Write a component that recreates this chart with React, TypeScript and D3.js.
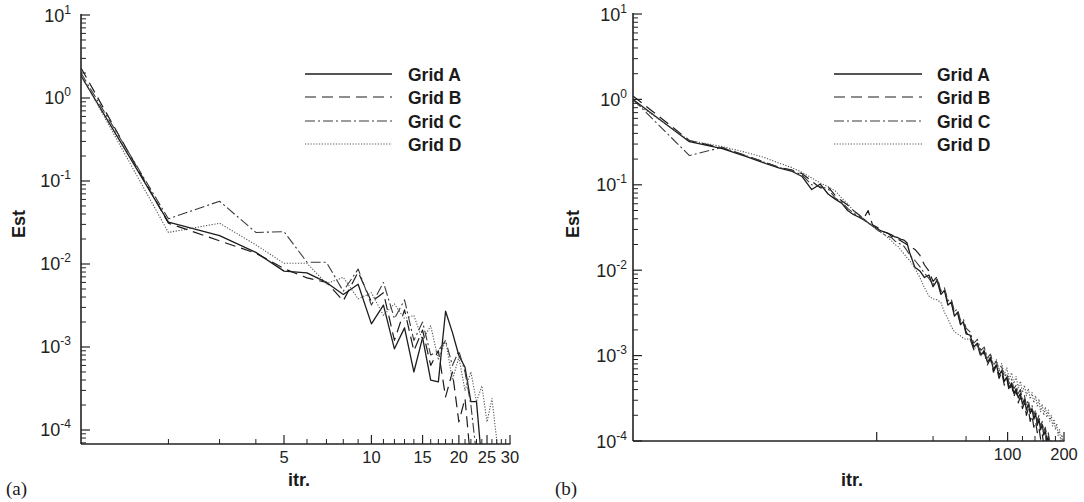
import * as d3 from "d3";

const gridNames = ["Grid A", "Grid B", "Grid C", "Grid D"];

// ---- panel (a): one value per iteration ----
const itrA = [1, 2, 3, 4, 5, 6, 7, 8, 9, 10, 11, 12, 13, 14, 15, 16, 17, 18, 19, 20, 21, 22, 23, 24, 25, 26, 27, 28];
const estA_gridA = [1.85, 0.032, 0.022, 0.0138, 0.0082, 0.0078, 0.006, 0.0043, 0.0057, 0.0019, 0.0032, 0.00095, 0.0017, 0.0005, 0.0013, 0.0004, 0.00038, 0.0027, 0.0015, 0.00079, 0.00057, 0.00022, 0.00022, 0.00004];
const estA_gridB = [2.3, 0.031, 0.019, 0.0135, 0.0088, 0.0068, 0.006, 0.0036, 0.008, 0.0035, 0.0045, 0.0012, 0.0028, 0.0009, 0.0016, 0.0006, 0.0009, 0.00025, 0.0005, 0.000125, 0.00024, 0.00004];
const estA_gridC = [2.0, 0.035, 0.057, 0.024, 0.0245, 0.0105, 0.0105, 0.0047, 0.0087, 0.0032, 0.006, 0.0022, 0.0037, 0.0012, 0.002, 0.0008, 0.0009, 0.0012, 0.0006, 0.0009, 0.0005, 0.0002, 0.00005];
const estA_gridD = [1.9, 0.024, 0.031, 0.017, 0.0102, 0.0102, 0.0058, 0.0069, 0.0038, 0.0045, 0.0024, 0.0033, 0.0022, 0.0024, 0.0012, 0.0018, 0.0007, 0.0012, 0.0004, 0.00075, 0.0003, 0.0005, 0.00022, 0.00034, 0.000125, 0.00024, 0.000076, 0.00003];

// ---- panel (b): sampled iterations ----
const itrB = [
  1, 2, 3, 4, 5, 6, 7, 8, 9, 10, 11, 12, 13, 14, 15, 16, 17, 18, 19, 20, 21, 22, 23, 24, 25, 26, 27, 28, 29, 30,
  32, 34, 36, 38, 40, 42, 44, 46, 48, 50, 52, 54, 56, 58, 60,
  63, 66, 69, 72, 75, 78, 81, 84, 87, 90, 93, 96, 99, 102, 105, 108, 111, 114, 117, 120, 123, 126, 129, 132, 135,
  138, 141, 144, 147, 150, 153, 156, 159, 162, 165, 168, 171, 174, 177, 180, 183, 186, 189, 192, 195, 198,
];
const estB_gridA = [
  1.0, 0.32, 0.265, 0.215, 0.18, 0.158, 0.145, 0.125, 0.088, 0.102, 0.078, 0.068, 0.061, 0.05, 0.045, 0.042, 0.039, 0.036, 0.033, 0.031, 0.029, 0.028, 0.027, 0.026, 0.0245, 0.024, 0.023, 0.0225, 0.021, 0.016,
  0.0108, 0.0098, 0.0082, 0.0088, 0.0064, 0.0076, 0.0052, 0.0058, 0.0039, 0.0042, 0.0029, 0.0032, 0.0023, 0.0025, 0.0018,
  0.00174, 0.00126, 0.0014, 0.00102, 0.00114, 0.00084, 0.00095, 0.00069, 0.00078, 0.00059, 0.00067, 0.0005, 0.00056, 0.00042, 0.00048, 0.00036, 0.00041, 0.00032, 0.00036, 0.00027, 0.00031, 0.00023, 0.00027, 0.00021, 0.00024,
  0.00018, 0.00021, 0.000153, 0.00018, 0.000135, 0.000157, 0.000117, 0.000134, 0.000099, 0.000114, 0.000085, 0.000096, 0.000072, 0.00007, 0.00006, 0.00006, 0.00005, 0.00005, 0.00004, 0.00004, 0.00004,
];
const estB_gridB = [
  1.1, 0.33, 0.27, 0.22, 0.185, 0.16, 0.15, 0.135, 0.11, 0.092, 0.095, 0.075, 0.065, 0.058, 0.05, 0.045, 0.04, 0.05, 0.034, 0.032, 0.03, 0.028, 0.027, 0.025, 0.024, 0.023, 0.022, 0.021, 0.02, 0.019,
  0.0175, 0.015, 0.0115, 0.0098, 0.0074, 0.0084, 0.0056, 0.006, 0.0041, 0.0044, 0.0031, 0.0033, 0.0024, 0.0025, 0.0019,
  0.0016, 0.00118, 0.00135, 0.00095, 0.00112, 0.00078, 0.00092, 0.00064, 0.00076, 0.00054, 0.00064, 0.00045, 0.00054, 0.00038, 0.00046, 0.00033, 0.00039, 0.00028, 0.00033, 0.00024, 0.00028, 0.0002, 0.00024, 0.00017, 0.0002,
  0.000145, 0.00017, 0.000125, 0.000145, 0.000105, 0.000122, 0.00009, 0.0001, 0.00008, 0.00007, 0.00007, 0.00006, 0.00006, 0.00005, 0.00005, 0.00004, 0.00004, 0.00004, 0.00004, 0.00004, 0.00004,
];
const estB_gridC = [
  1.0, 0.22, 0.275, 0.22, 0.185, 0.16, 0.148, 0.13, 0.1, 0.095, 0.09, 0.07, 0.063, 0.053, 0.047, 0.043, 0.04, 0.036, 0.033, 0.03, 0.028, 0.026, 0.025, 0.024, 0.022, 0.021, 0.02, 0.019, 0.017, 0.015,
  0.013, 0.011, 0.0092, 0.008, 0.0068, 0.0079, 0.0058, 0.0062, 0.0044, 0.0046, 0.0033, 0.0035, 0.0026, 0.0027, 0.0021,
  0.0019, 0.0014, 0.00155, 0.00115, 0.00126, 0.00094, 0.00104, 0.00077, 0.00086, 0.00066, 0.00074, 0.00056, 0.00062, 0.00047, 0.00053, 0.00041, 0.00045, 0.00036, 0.0004, 0.00031, 0.00034, 0.00026, 0.0003, 0.00023, 0.00026,
  0.0002, 0.00023, 0.00017, 0.0002, 0.000148, 0.00017, 0.00013, 0.000145, 0.000112, 0.000125, 0.000095, 0.0001, 0.00008, 0.00007, 0.00006, 0.00006, 0.00005, 0.00005, 0.00004, 0.00004, 0.00004,
];
const estB_gridD = [
  0.95, 0.33, 0.28, 0.24, 0.21, 0.18, 0.16, 0.14, 0.12, 0.105, 0.095, 0.085, 0.07, 0.06, 0.05, 0.045, 0.04, 0.036, 0.033, 0.03, 0.028, 0.026, 0.024, 0.022, 0.02, 0.019, 0.017, 0.0155, 0.014, 0.013,
  0.0105, 0.0082, 0.0062, 0.005, 0.0046, 0.0045, 0.0042, 0.0032, 0.0027, 0.0022, 0.0019, 0.0018, 0.0017, 0.0016, 0.00155,
  0.00158, 0.00116, 0.00136, 0.001, 0.00119, 0.00087, 0.00104, 0.00077, 0.0009, 0.00068, 0.00081, 0.0006, 0.00072, 0.00053, 0.00063, 0.00047, 0.00057, 0.00042, 0.0005, 0.00037, 0.00045, 0.00034, 0.00041, 0.00031, 0.00037,
  0.00028, 0.00034, 0.00025, 0.00031, 0.00022, 0.00027, 0.0002, 0.00025, 0.00019, 0.00023, 0.00017, 0.0002, 0.00015, 0.00018, 0.000135, 0.00016, 0.000116, 0.000136, 0.0001, 0.000118, 0.000095,
];

// x-axis ticks
const xMajorA = [5, 10, 15, 20, 25, 30];
const xMinorA = [2, 3, 4, 6, 7, 8, 9, 11, 12, 13, 14, 16, 17, 18, 19, 21, 22, 23, 24, 26, 27, 28, 29];
const xLabelsA = [5, 10, 15, 20, 25, 30];
const xMajorB = [20, 100, 200];
const xMinorB = [40, 60, 80, 120, 140, 160, 180];
const xLabelsB = [100, 200];

const lineStyles = [
  { stroke: "#1c1c1c", width: 1.3, dash: undefined },
  { stroke: "#1c1c1c", width: 1.2, dash: "11,6" },
  { stroke: "#3a3a3a", width: 1.1, dash: "10,3,2,3" },
  { stroke: "#555", width: 1.1, dash: "1.2,1.6" },
];

const SANS = "'Liberation Sans', Arial, Helvetica, sans-serif";
const SERIF = "'Liberation Serif', 'Times New Roman', serif";

type PanelProps = {
  id: string;
  left: number;
  right: number;
  top: number;
  bottom: number;
  xDomain: [number, number];
  yDomain: [number, number];
  itr: number[];
  series: number[][];
  xMajor: number[];
  xMinor: number[];
  xLabels: number[];
  yLabelGap: number;
  estX: number;
  itrX: number;
  tag: string;
  tagX: number;
  legendX0: number;
  legendX1: number;
  legendTextX: number;
};

function Panel(p: PanelProps) {
  const x = d3.scaleLog().domain(p.xDomain).range([p.left, p.right]);
  const y = d3.scaleLog().domain(p.yDomain).range([p.bottom, p.top]);
  const line = d3
    .line<[number, number]>()
    .x((d) => x(d[0]))
    .y((d) => y(d[1]));

  const yMajor: number[] = [];
  const yMinor: number[] = [];
  for (let e = -5; e <= 1; e++) {
    for (let m = 1; m <= 9; m++) {
      const v = m * Math.pow(10, e);
      if (v < p.yDomain[0] * 0.999 || v > p.yDomain[1] * 1.001) continue;
      (m === 1 ? yMajor : yMinor).push(v);
    }
  }

  const clipId = `clip-${p.id}`;
  const legendRows = [74, 97, 121, 144];
  const axisColor = "#222";

  return (
    <g>
      <defs>
        <clipPath id={clipId}>
          <rect x={p.left} y={p.top - 2} width={p.right - p.left + 1} height={p.bottom - p.top + 2} />
        </clipPath>
      </defs>

      {/* data lines */}
      <g clipPath={`url(#${clipId})`}>
        {p.series.map((vals, i) => {
          const pts = vals
            .map((v, j) => [p.itr[j], v] as [number, number])
            .filter((d) => d[0] !== undefined);
          const st = lineStyles[i];
          return (
            <path
              key={i}
              d={line(pts) || ""}
              fill="none"
              stroke={st.stroke}
              strokeWidth={st.width}
              strokeDasharray={st.dash}
              strokeLinejoin="round"
            />
          );
        })}
      </g>

      {/* axes */}
      <line x1={p.left} x2={p.left} y1={p.top - 1} y2={p.bottom} stroke={axisColor} strokeWidth={1.6} />
      <line x1={p.left} x2={p.right + 0.5} y1={p.bottom} y2={p.bottom} stroke={axisColor} strokeWidth={1.6} />

      {yMajor.map((v) => (
        <line key={`ym${v}`} x1={p.left} x2={p.left + 9} y1={y(v)} y2={y(v)} stroke={axisColor} strokeWidth={1.2} />
      ))}
      {yMinor.map((v) => (
        <line key={`yn${v}`} x1={p.left} x2={p.left + 5} y1={y(v)} y2={y(v)} stroke={axisColor} strokeWidth={1} />
      ))}
      {yMajor.map((v) => (
        <text
          key={`yl${v}`}
          x={p.left - p.yLabelGap}
          y={y(v) + 6.5}
          textAnchor="end"
          fontFamily={SANS}
          fontSize={18}
          fill="#222"
        >
          10
          <tspan dy={-8} fontSize={12}>
            {String(Math.round(Math.log10(v)))}
          </tspan>
        </text>
      ))}

      {p.xMajor.map((v) => (
        <line key={`xm${v}`} x1={x(v)} x2={x(v)} y1={p.bottom} y2={p.bottom - 9} stroke={axisColor} strokeWidth={1.2} />
      ))}
      {p.xMinor.map((v) => (
        <line key={`xn${v}`} x1={x(v)} x2={x(v)} y1={p.bottom} y2={p.bottom - 5} stroke={axisColor} strokeWidth={1} />
      ))}
      {p.xLabels.map((v) => (
        <text key={`xl${v}`} x={x(v)} y={p.bottom + 19} textAnchor="middle" fontFamily={SANS} fontSize={16.5} fill="#222">
          {v}
        </text>
      ))}

      {/* titles */}
      <text
        transform={`translate(${p.estX},224) rotate(-90)`}
        textAnchor="middle"
        dominantBaseline="central"
        fontFamily={SANS}
        fontWeight="bold"
        fontSize={18}
        fill="#1a1a1a"
      >
        Est
      </text>
      <text x={p.itrX} y={486} textAnchor="middle" fontFamily={SANS} fontWeight="bold" fontSize={18} fill="#1a1a1a">
        itr.
      </text>
      <text x={p.tagX} y={495} fontFamily={SERIF} fontSize={19} fill="#1a1a1a">
        {p.tag}
      </text>

      {/* legend */}
      {gridNames.map((name, i) => {
        const st = lineStyles[i];
        return (
          <g key={name}>
            <line
              x1={p.legendX0}
              x2={p.legendX1}
              y1={legendRows[i]}
              y2={legendRows[i]}
              stroke={st.stroke}
              strokeWidth={st.width}
              strokeDasharray={st.dash}
            />
            <text
              x={p.legendTextX}
              y={legendRows[i] + 6.5}
              fontFamily={SANS}
              fontWeight="bold"
              fontSize={17.5}
              fill="#1a1a1a"
            >
              {name}
            </text>
          </g>
        );
      })}
    </g>
  );
}

export default function App() {
  return (
    <div style={{ position: "absolute", left: 0, top: 0 }}>
      <svg width={1084} height={502} style={{ display: "block", background: "#fff" }}>
        <Panel
          id="a"
          left={81}
          right={510}
          top={15}
          bottom={444}
          xDomain={[1, 30]}
          yDomain={[6.78e-5, 10]}
          itr={itrA}
          series={[estA_gridA, estA_gridB, estA_gridC, estA_gridD]}
          xMajor={xMajorA}
          xMinor={xMinorA}
          xLabels={xLabelsA}
          yLabelGap={10}
          estX={19}
          itrX={299}
          tag="(a)"
          tagX={6}
          legendX0={305}
          legendX1={392}
          legendTextX={408}
        />
        <Panel
          id="b"
          left={633}
          right={1064}
          top={14}
          bottom={441}
          xDomain={[1, 200]}
          yDomain={[1e-4, 10]}
          itr={itrB}
          series={[estB_gridA, estB_gridB, estB_gridC, estB_gridD]}
          xMajor={xMajorB}
          xMinor={xMinorB}
          xLabels={xLabelsB}
          yLabelGap={6}
          estX={573}
          itrX={852}
          tag="(b)"
          tagX={555}
          legendX0={834}
          legendX1={922}
          legendTextX={937}
        />
      </svg>
    </div>
  );
}
